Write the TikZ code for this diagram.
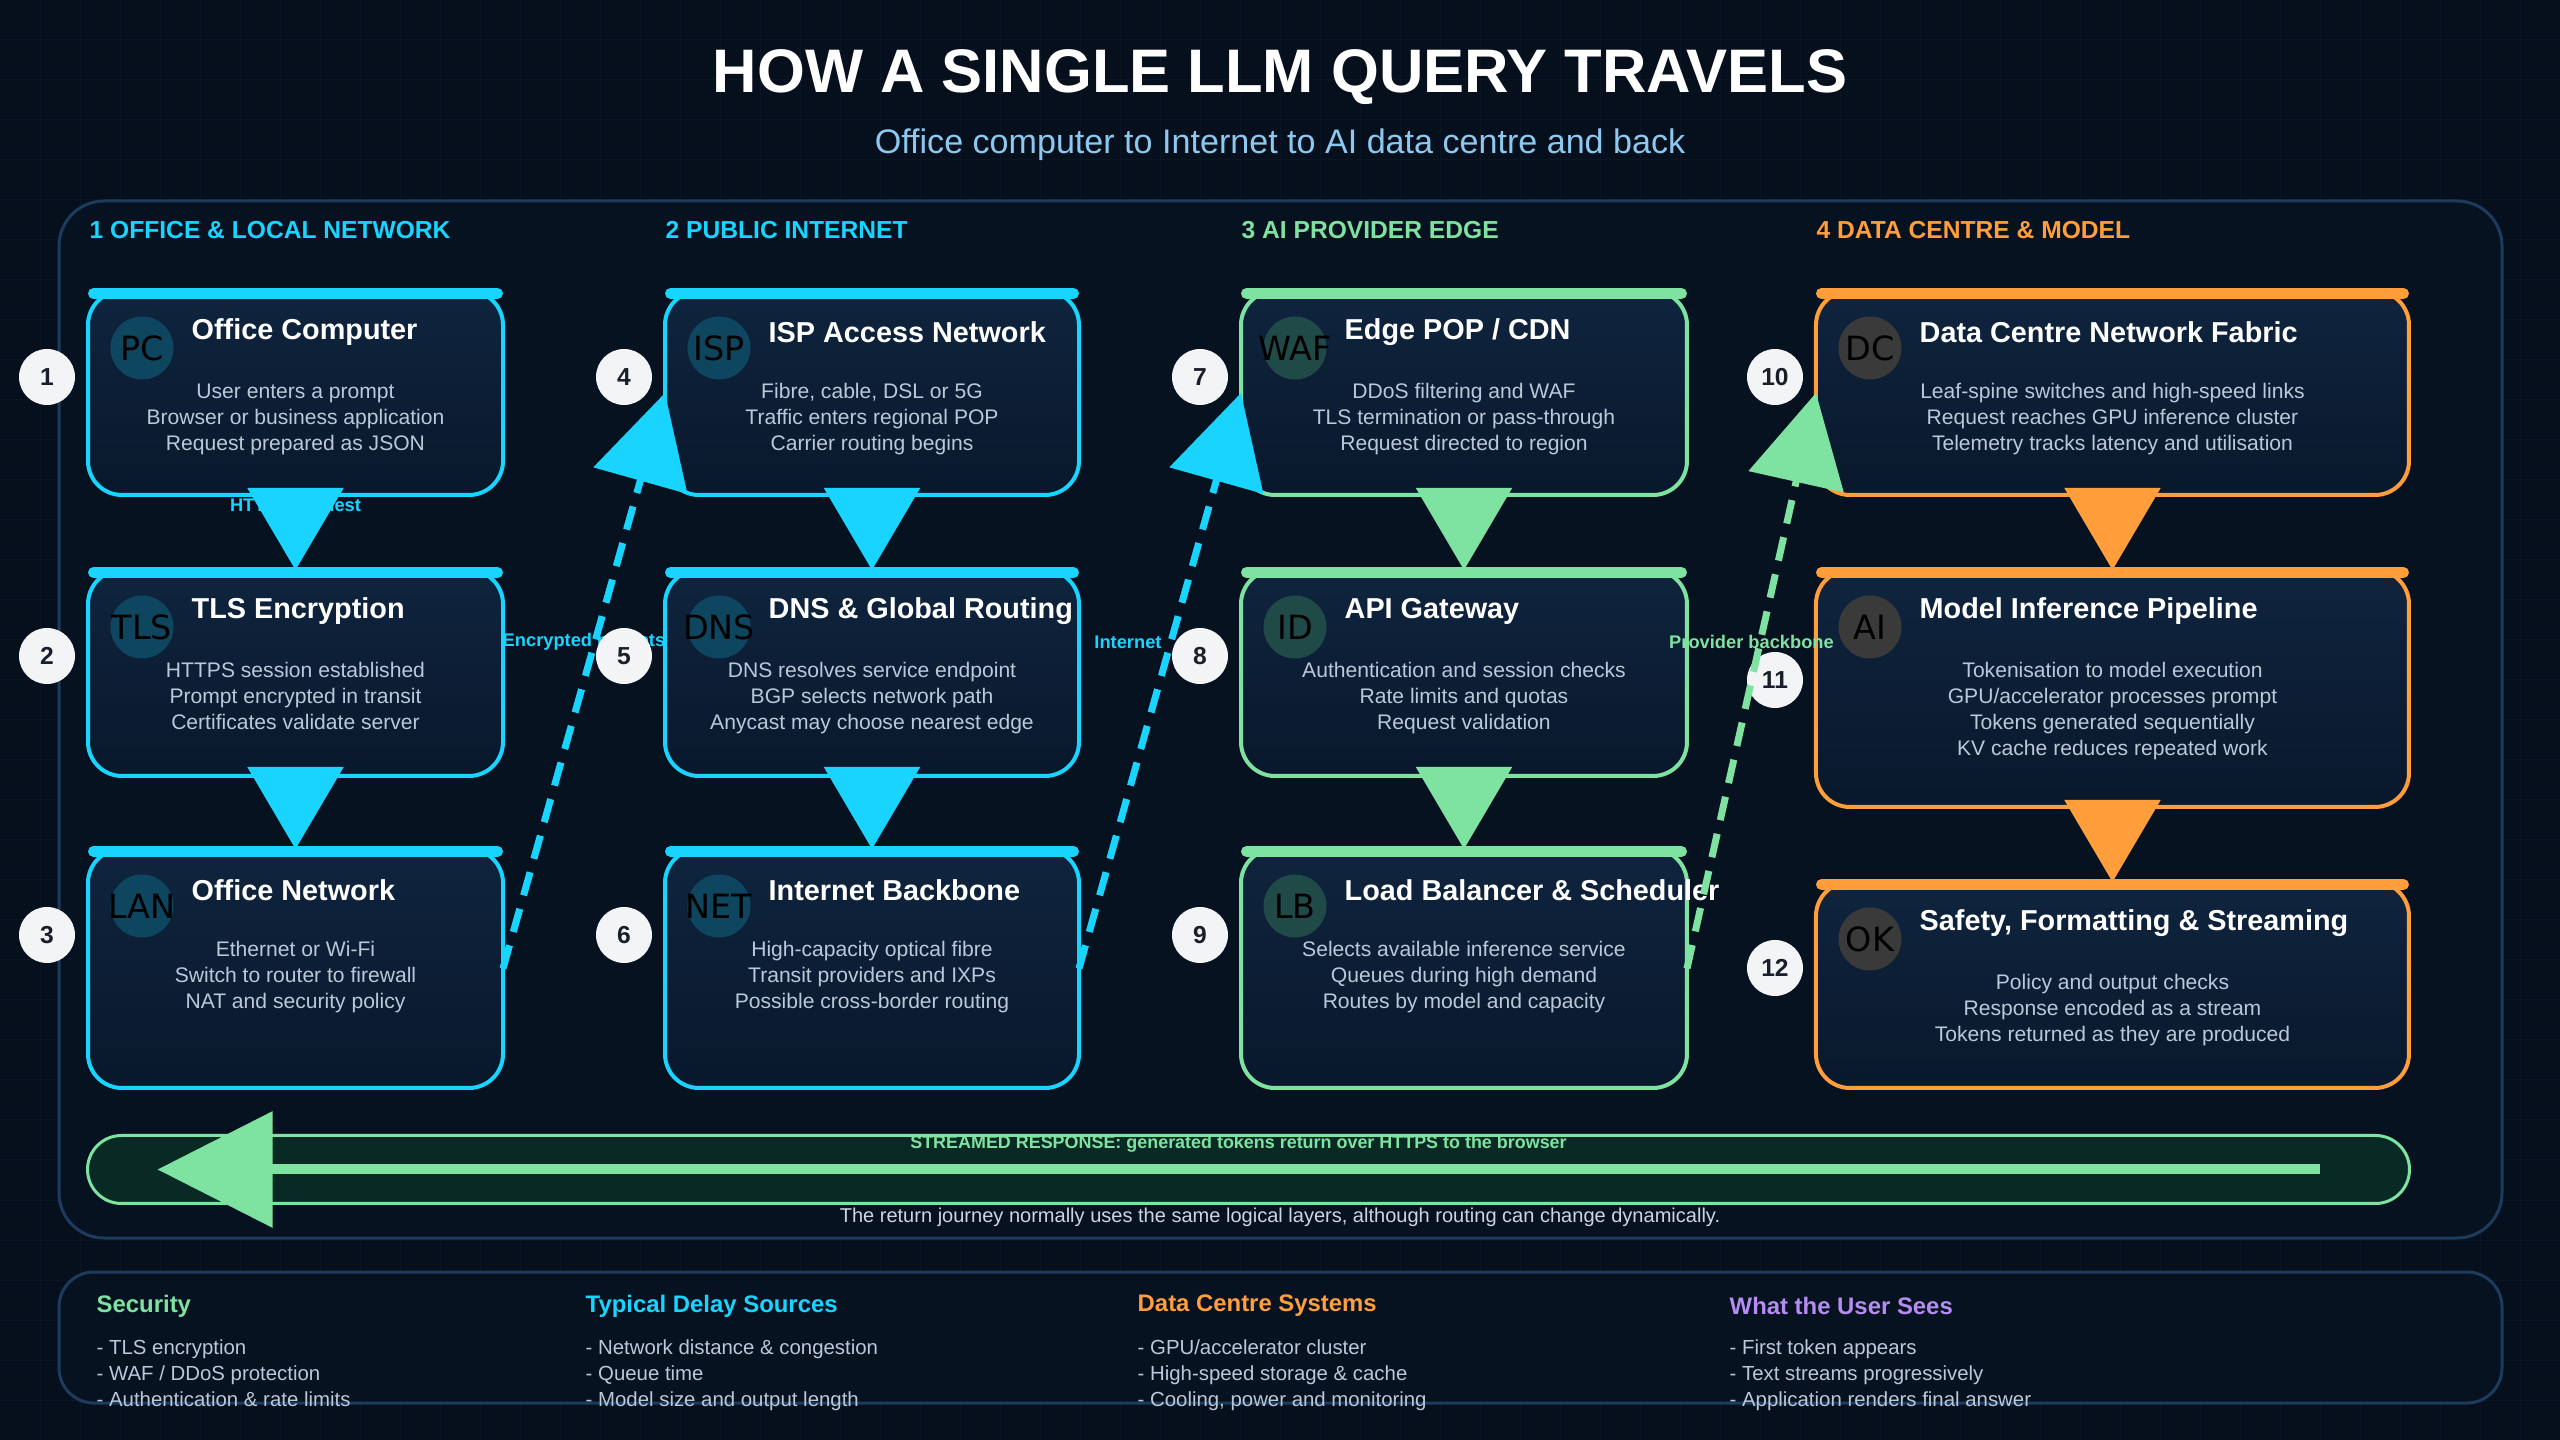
\documentclass[tikz,border=0pt]{standalone}
\usepackage{fontspec}
\setmainfont{Liberation Sans}
\newfontfamily\iconfont{DejaVu Sans}
\usetikzlibrary{arrows.meta, positioning, calc}
\pgfdeclarelayer{back}
\pgfsetlayers{back,main}

\definecolor{bgnavy}{RGB}{6,16,29}
\definecolor{gridnavy}{RGB}{10,22,38}
\definecolor{panelnavy}{RGB}{7,18,33}
\definecolor{panelline}{RGB}{29,59,92}
\definecolor{cardtop}{RGB}{15,36,62}
\definecolor{cardbot}{RGB}{9,24,44}
\definecolor{netcyan}{RGB}{24,212,255}
\definecolor{edgegreen}{RGB}{126,226,160}
\definecolor{dcorange}{RGB}{255,158,58}
\definecolor{userpurple}{RGB}{180,140,242}
\definecolor{bodygrey}{RGB}{186,200,216}
\definecolor{notegrey}{RGB}{204,214,226}
\definecolor{subblue}{RGB}{140,200,240}
\definecolor{numwhite}{RGB}{242,244,246}
\definecolor{numink}{RGB}{24,30,42}
\definecolor{iconteal}{RGB}{14,70,96}
\definecolor{iconsage}{RGB}{32,74,72}
\definecolor{icongrey}{RGB}{58,58,58}
\definecolor{streamfill}{RGB}{9,42,36}

\tikzset{
  card/.style={rectangle, draw=#1, line width=0.4mm, rounded corners=3.4mm,
    top color=cardtop, bottom color=cardbot, inner sep=0pt, outer sep=0pt},
  topbar/.style={line width=1.1mm, line cap=round},
  iconbg/.style={circle, minimum size=6.3mm, inner sep=0pt},
  icontxt/.style={inner sep=0pt, text=black,
    font=\iconfont\fontsize{9.5}{10}\selectfont},
  cardtitle/.style={anchor=west, inner sep=0pt, text=white,
    font=\bfseries\fontsize{8.2}{10}\selectfont},
  cardbody/.style={anchor=north, inner sep=0pt, align=center, text=bodygrey,
    font=\fontsize{6}{7.4}\selectfont},
  stepnum/.style={circle, fill=numwhite, minimum size=5.6mm, inner sep=0pt,
    text=numink, font=\bfseries\fontsize{7}{8}\selectfont},
  sechead/.style={anchor=west, inner sep=0pt, text=#1,
    font=\bfseries\fontsize{7}{8}\selectfont},
  flow/.style={-{Triangle[length=8.2mm, width=9.6mm]}, line width=0.2mm, #1},
  hop/.style={-{Triangle[length=9.1mm, width=9.6mm]}, line width=0.7mm,
    dash pattern=on 2.4mm off 1.4mm, #1},
  linklbl/.style={inner sep=1pt, text=#1,
    font=\bfseries\fontsize{5.2}{6}\selectfont},
  streambar/.style={rectangle, rounded corners=3.4mm, fill=streamfill,
    draw=edgegreen, line width=0.3mm, inner sep=0pt, outer sep=0pt,
    minimum width=232.2mm, minimum height=6.8mm},
  ret/.style={-{Triangle[length=11.5mm, width=11.4mm]}, line width=1mm, edgegreen},
  streamlbl/.style={inner sep=0pt, yshift=2.6mm, text=edgegreen,
    font=\bfseries\fontsize{5.1}{6}\selectfont},
  panelbox/.style={fill=panelnavy, draw=panelline, line width=0.3mm},
  leghead/.style={anchor=west, inner sep=0pt, text=#1,
    font=\bfseries\fontsize{6.8}{8}\selectfont},
  legitems/.style={anchor=north west, inner sep=0pt, align=left, text=bodygrey,
    font=\fontsize{5.8}{7.4}\selectfont},
}

% bar, icon, title and text lines of one card
\newcommand{\cardparts}[6]{%
  \draw[topbar, draw=#2] ([xshift=0.55mm,yshift=-0.25mm]#1.north west)
    -- ([xshift=-0.55mm,yshift=-0.25mm]#1.north east);
  \node[iconbg, fill=#3] (#1-icon) at ([xshift=5.4mm,yshift=-5.7mm]#1.north west) {};
  \node[icontxt] (#1-icontext) at (#1-icon) {#4};
  \node[cardtitle] (#1-title) at ([xshift=10.3mm,yshift=-4.1mm]#1.north west) {#5};
  \node[cardbody] (#1-body) at ([yshift=-9.2mm]#1.north) {#6};
}

\begin{document}
\begin{tikzpicture}[x=0.1mm, y=-0.1mm]
  \useasboundingbox (0,0) rectangle (2560,1440);

  \begin{pgfonlayer}{back}
    \fill[bgnavy] (0,0) rectangle (2560,1440);
    \foreach \gx in {40,80,...,2520}
      \draw[gridnavy, line width=0.1mm] (\gx,0) -- (\gx,1440);
    \foreach \gy in {40,80,...,1400}
      \draw[gridnavy, line width=0.1mm] (0,\gy) -- (2560,\gy);
    \draw[panelbox, rounded corners=4.5mm] (59,201) rectangle (2502,1238);
    \draw[panelbox, rounded corners=3.5mm] (59,1272) rectangle (2502,1403);
  \end{pgfonlayer}

  % heading
  \node[text=white, font=\bfseries\fontsize{17.5}{20}\selectfont] (title)
       at (1280,77) {HOW A SINGLE LLM QUERY TRAVELS};
  \node[text=subblue, font=\fontsize{9.7}{12}\selectfont] (subtitle)
       at (1280,145) {Office computer to Internet to AI data centre and back};

  \node[sechead=netcyan]   (sec1) at (89,230)   {1 OFFICE \& LOCAL NETWORK};
  \node[sechead=netcyan]   (sec2) at (665,230)  {2 PUBLIC INTERNET};
  \node[sechead=edgegreen] (sec3) at (1241,230) {3 AI PROVIDER EDGE};
  \node[sechead=dcorange]  (sec4) at (1816,230) {4 DATA CENTRE \& MODEL};

  % cards
  \node[card=netcyan, minimum width=41.5mm, minimum height=20.4mm] (pc) at (295.5,393) {};
  \node[card=netcyan, minimum width=41.5mm, minimum height=20.6mm, below=7.5mm of pc] (tls) {};
  \node[card=netcyan, minimum width=41.5mm, minimum height=23.9mm, below=7.3mm of tls] (lan) {};

  \node[card=netcyan, minimum width=41.4mm, minimum height=20.4mm, right=16.2mm of pc] (isp) {};
  \node[card=netcyan, minimum width=41.4mm, minimum height=20.6mm, below=7.5mm of isp] (dns) {};
  \node[card=netcyan, minimum width=41.4mm, minimum height=23.9mm, below=7.3mm of dns] (net) {};

  \node[card=edgegreen, minimum width=44.6mm, minimum height=20.4mm, right=16.2mm of isp] (edge) {};
  \node[card=edgegreen, minimum width=44.6mm, minimum height=20.6mm, below=7.5mm of edge] (api) {};
  \node[card=edgegreen, minimum width=44.6mm, minimum height=23.9mm, below=7.3mm of api] (lb) {};

  \node[card=dcorange, minimum width=59.3mm, minimum height=20.4mm, right=12.9mm of edge] (dcn) {};
  \node[card=dcorange, minimum width=59.3mm, minimum height=23.7mm, below=7.5mm of dcn] (infer) {};
  \node[card=dcorange, minimum width=59.3mm, minimum height=20.6mm, below=7.5mm of infer] (safe) {};

  \cardparts{pc}{netcyan}{iconteal}{PC}{Office Computer}
    {User enters a prompt\\Browser or business application\\Request prepared as JSON}
  \cardparts{tls}{netcyan}{iconteal}{TLS}{TLS Encryption}
    {HTTPS session established\\Prompt encrypted in transit\\Certificates validate server}
  \cardparts{lan}{netcyan}{iconteal}{LAN}{Office Network}
    {Ethernet or Wi-Fi\\Switch to router to firewall\\NAT and security policy}
  \cardparts{isp}{netcyan}{iconteal}{ISP}{ISP Access Network}
    {Fibre, cable, DSL or 5G\\Traffic enters regional POP\\Carrier routing begins}
  \cardparts{dns}{netcyan}{iconteal}{DNS}{DNS \& Global Routing}
    {DNS resolves service endpoint\\BGP selects network path\\Anycast may choose nearest edge}
  \cardparts{net}{netcyan}{iconteal}{NET}{Internet Backbone}
    {High-capacity optical fibre\\Transit providers and IXPs\\Possible cross-border routing}
  \cardparts{edge}{edgegreen}{iconsage}{WAF}{Edge POP / CDN}
    {DDoS filtering and WAF\\TLS termination or pass-through\\Request directed to region}
  \cardparts{api}{edgegreen}{iconsage}{ID}{API Gateway}
    {Authentication and session checks\\Rate limits and quotas\\Request validation}
  \cardparts{lb}{edgegreen}{iconsage}{LB}{Load Balancer \& Scheduler}
    {Selects available inference service\\Queues during high demand\\Routes by model and capacity}
  \cardparts{dcn}{dcorange}{icongrey}{DC}{Data Centre Network Fabric}
    {Leaf-spine switches and high-speed links\\Request reaches GPU inference cluster\\Telemetry tracks latency and utilisation}
  \cardparts{infer}{dcorange}{icongrey}{AI}{Model Inference Pipeline}
    {Tokenisation to model execution\\GPU/accelerator processes prompt\\Tokens generated sequentially\\KV cache reduces repeated work}
  \cardparts{safe}{dcorange}{icongrey}{OK}{Safety, Formatting \& Streaming}
    {Policy and output checks\\Response encoded as a stream\\Tokens returned as they are produced}

  % link labels, under the numbers and arrows
  \path (pc) -- node[linklbl=netcyan, yshift=2.55mm] (lblhttps) {HTTPS request} (tls);
  \path (lan.east) -- node[linklbl=netcyan, yshift=3.85mm] (lblenc) {Encrypted packets} (isp.west);
  \path (net.east) -- node[linklbl=netcyan, yshift=3.85mm, xshift=-3.2mm] (lblinet) {Internet} (edge.west);
  \path (lb.east) -- node[linklbl=edgegreen, yshift=3.85mm] (lblprov) {Provider backbone} (dcn.west);

  % step numbers
  \node[stepnum] (n1)  at ([xshift=-4.1mm,yshift=-8.6mm]pc.north west)    {1};
  \node[stepnum] (n2)  at ([xshift=-4.1mm,yshift=-8.6mm]tls.north west)   {2};
  \node[stepnum] (n3)  at ([xshift=-4.1mm,yshift=-8.6mm]lan.north west)   {3};
  \node[stepnum] (n4)  at ([xshift=-4.1mm,yshift=-8.6mm]isp.north west)   {4};
  \node[stepnum] (n5)  at ([xshift=-4.1mm,yshift=-8.6mm]dns.north west)   {5};
  \node[stepnum] (n6)  at ([xshift=-4.1mm,yshift=-8.6mm]net.north west)   {6};
  \node[stepnum] (n7)  at ([xshift=-4.1mm,yshift=-8.6mm]edge.north west)  {7};
  \node[stepnum] (n8)  at ([xshift=-4.1mm,yshift=-8.6mm]api.north west)   {8};
  \node[stepnum] (n9)  at ([xshift=-4.1mm,yshift=-8.6mm]lb.north west)    {9};
  \node[stepnum] (n10) at ([xshift=-4.1mm,yshift=-8.6mm]dcn.north west)   {10};
  \node[stepnum] (n11) at ([xshift=-4.1mm,yshift=-11mm]infer.north west)  {11};
  \node[stepnum] (n12) at ([xshift=-4.1mm,yshift=-8.6mm]safe.north west)  {12};

  % request path
  \draw[flow=netcyan]   (pc)    -- (tls);
  \draw[flow=netcyan]   (tls)   -- (lan);
  \draw[flow=netcyan]   (isp)   -- (dns);
  \draw[flow=netcyan]   (dns)   -- (net);
  \draw[flow=edgegreen] (edge)  -- (api);
  \draw[flow=edgegreen] (api)   -- (lb);
  \draw[flow=dcorange]  (dcn)   -- (infer);
  \draw[flow=dcorange]  (infer) -- (safe);
  \draw[hop=netcyan]    (lan.east) -- (isp.west);
  \draw[hop=netcyan]    (net.east) -- (edge.west);
  \draw[hop=edgegreen]  (lb.east)  -- (dcn.west);

  % return path
  \node[streambar] (stream) at (1248.5,1169.5) {};
  \coordinate (streamfrom) at ([xshift=-9mm]stream.east);
  \coordinate (streamto)   at ([xshift=7mm]stream.west);
  \draw[ret] (streamfrom) -- node[streamlbl] (streamtext)
    {STREAMED RESPONSE: generated tokens return over HTTPS to the browser} (streamto);
  \node[text=notegrey, font=\fontsize{5.7}{7}\selectfont] (note) at (1280,1217)
    {The return journey normally uses the same logical layers, although routing can change dynamically.};

  % legend
  \node[leghead=edgegreen]  (legsec)   at (96,1306)   {Security};
  \node[leghead=netcyan]    (legdelay) at (585,1306)  {Typical Delay Sources};
  \node[leghead=dcorange]   (legdc)    at (1137,1306) {Data Centre Systems};
  \node[leghead=userpurple] (leguser)  at (1729,1306) {What the User Sees};
  \node[legitems] (legsecitems) at (96,1339)
    {- TLS encryption\\- WAF / DDoS protection\\- Authentication \& rate limits};
  \node[legitems] (legdelayitems) at (585,1339)
    {- Network distance \& congestion\\- Queue time\\- Model size and output length};
  \node[legitems] (legdcitems) at (1137,1339)
    {- GPU/accelerator cluster\\- High-speed storage \& cache\\- Cooling, power and monitoring};
  \node[legitems] (leguseritems) at (1729,1339)
    {- First token appears\\- Text streams progressively\\- Application renders final answer};
\end{tikzpicture}
\end{document}
